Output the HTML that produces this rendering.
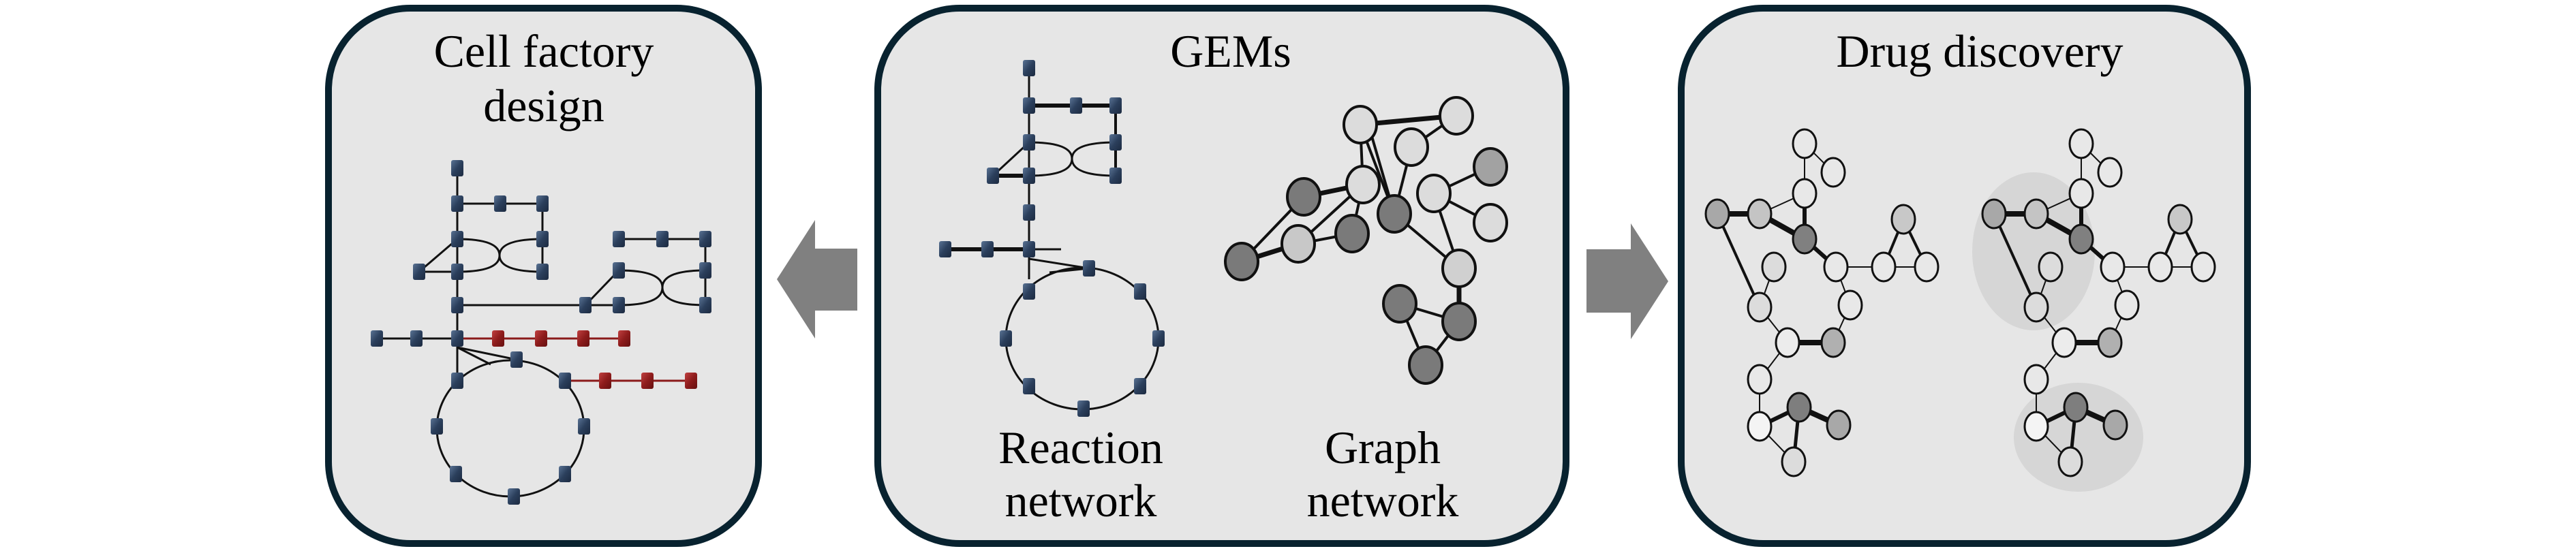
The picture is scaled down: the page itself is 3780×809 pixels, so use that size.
<!DOCTYPE html>
<html><head><meta charset="utf-8"><style>
html,body{margin:0;padding:0;background:#fff;}
svg{display:block;}
.t{font-family:"Liberation Serif","Times New Roman","DejaVu Serif",serif;font-size:68px;fill:#000;text-anchor:middle;}
</style></head><body>
<svg width="3780" height="809" viewBox="0 0 3780 809" xmlns="http://www.w3.org/2000/svg">
<defs>
<linearGradient id="bq" x1="0" y1="0" x2="1" y2="1"><stop offset="0" stop-color="#5a7394"/><stop offset="0.5" stop-color="#2b3f5c"/><stop offset="1" stop-color="#1c2a40"/></linearGradient>
<linearGradient id="rq" x1="0" y1="0" x2="1" y2="1"><stop offset="0" stop-color="#c04040"/><stop offset="0.5" stop-color="#8e1c1c"/><stop offset="1" stop-color="#661010"/></linearGradient>
<g id="b"><rect x="-9" y="-12" width="18" height="24" rx="3" fill="url(#bq)"/></g>
<g id="r"><rect x="-9" y="-12" width="18" height="24" rx="3" fill="url(#rq)"/></g>
</defs>
<g fill="#e6e6e6" stroke="#08222f" stroke-width="10">
<rect x="482" y="12" width="631" height="786" rx="120"/>
<rect x="1288" y="12" width="1010" height="786" rx="120"/>
<rect x="2467" y="12" width="831" height="786" rx="120"/>
</g>
<polygon points="1140,410 1196,323 1196,365 1258,365 1258,456 1196,456 1196,497" fill="#808080"/>
<polygon points="2448,413 2393,328 2393,366 2328,366 2328,459 2393,459 2393,498" fill="#808080"/>
<text class="t" x="798" y="98">Cell factory</text>
<text class="t" x="798" y="178">design</text>
<text class="t" x="1806" y="98">GEMs</text>
<text class="t" x="1586" y="680">Reaction</text>
<text class="t" x="1586" y="758">network</text>
<text class="t" x="2029" y="680">Graph</text>
<text class="t" x="2029" y="758">network</text>
<text class="t" x="2905" y="98">Drug discovery</text>

<g stroke="#111" fill="none" stroke-width="3">
<line x1="671" y1="247" x2="671" y2="559"/>
<line x1="671" y1="299" x2="796" y2="299"/>
<line x1="796" y1="299" x2="796" y2="399"/>
<path d="M671,351 Q733,351 733,375 Q733,399 671,399"/>
<path d="M796,351 Q733,351 733,375 Q733,399 796,399"/>
<line x1="615" y1="399" x2="671" y2="351"/>
<line x1="615" y1="399" x2="671" y2="399"/>
<line x1="671" y1="448" x2="859" y2="448"/>
<line x1="859" y1="448" x2="908" y2="397"/>
<line x1="859" y1="448" x2="908" y2="448"/>
<line x1="908" y1="351" x2="1035" y2="351"/>
<line x1="1035" y1="351" x2="1035" y2="448"/>
<path d="M908,397 Q972,397 972,422 Q972,448 908,448"/>
<path d="M1035,397 Q972,397 972,422 Q972,448 1035,448"/>
<line x1="553" y1="497" x2="671" y2="497"/>
<path d="M671,510 L758,528"/>
<path d="M671,510 L720,535"/>
<ellipse cx="749" cy="629" rx="108" ry="100"/>
</g>
<g stroke="#8b1a1a" stroke-width="3"><line x1="671" y1="497" x2="916" y2="497"/><line x1="829" y1="559" x2="1014" y2="559"/></g>
<g>
<use href="#b" x="671" y="247"/><use href="#b" x="671" y="299"/><use href="#b" x="734" y="299"/><use href="#b" x="796" y="299"/>
<use href="#b" x="671" y="351"/><use href="#b" x="796" y="351"/><use href="#b" x="615" y="399"/><use href="#b" x="671" y="399"/><use href="#b" x="796" y="399"/>
<use href="#b" x="671" y="448"/><use href="#b" x="859" y="448"/><use href="#b" x="908" y="448"/><use href="#b" x="1035" y="448"/>
<use href="#b" x="908" y="351"/><use href="#b" x="972" y="351"/><use href="#b" x="1035" y="351"/><use href="#b" x="908" y="397"/><use href="#b" x="1035" y="397"/>
<use href="#b" x="553" y="497"/><use href="#b" x="611" y="497"/><use href="#b" x="671" y="497"/>
<use href="#r" x="731" y="497"/><use href="#r" x="794" y="497"/><use href="#r" x="856" y="497"/><use href="#r" x="916" y="497"/>
<use href="#b" x="758" y="528"/><use href="#b" x="671" y="559"/><use href="#b" x="829" y="559"/>
<use href="#r" x="888" y="559"/><use href="#r" x="950" y="559"/><use href="#r" x="1014" y="559"/>
<use href="#b" x="641" y="626"/><use href="#b" x="857" y="626"/><use href="#b" x="669" y="696"/><use href="#b" x="829" y="696"/><use href="#b" x="754" y="729"/>
</g>

<g stroke="#111" fill="none" stroke-width="3">
<line x1="1510" y1="100" x2="1510" y2="410"/>
<line x1="1510" y1="155" x2="1637" y2="155" stroke-width="6"/>
<line x1="1637" y1="155" x2="1637" y2="258" stroke-width="4"/>
<path d="M1510,209 Q1573,209 1573,233 Q1573,258 1510,258"/>
<path d="M1637,209 Q1573,209 1573,233 Q1573,258 1637,258"/>
<line x1="1457" y1="258" x2="1510" y2="209"/>
<line x1="1457" y1="258" x2="1510" y2="258" stroke-width="6"/>
<line x1="1387" y1="366" x2="1510" y2="366" stroke-width="6"/>
<line x1="1510" y1="366" x2="1557" y2="366"/>
<path d="M1510,380 L1598,394 L1540,400"/>
<ellipse cx="1588" cy="497" rx="112" ry="104"/>
</g>
<g>
<use href="#b" x="1510" y="100"/><use href="#b" x="1510" y="155"/><use href="#b" x="1579" y="155"/><use href="#b" x="1637" y="155"/>
<use href="#b" x="1510" y="209"/><use href="#b" x="1637" y="209"/><use href="#b" x="1457" y="258"/><use href="#b" x="1510" y="258"/><use href="#b" x="1637" y="258"/>
<use href="#b" x="1510" y="312"/><use href="#b" x="1387" y="366"/><use href="#b" x="1449" y="366"/><use href="#b" x="1510" y="366"/>
<use href="#b" x="1598" y="394"/><use href="#b" x="1510" y="428"/><use href="#b" x="1673" y="428"/><use href="#b" x="1476" y="497"/><use href="#b" x="1700" y="497"/>
<use href="#b" x="1510" y="567"/><use href="#b" x="1673" y="567"/><use href="#b" x="1590" y="600"/>
</g>

<g stroke="#111" stroke-width="4" fill="none">
<line x1="1996" y1="183" x2="2137" y2="170" stroke-width="7"/>
<line x1="2071" y1="216" x2="2137" y2="170"/>
<line x1="1996" y1="183" x2="2000" y2="271"/>
<line x1="1996" y1="183" x2="2046" y2="314"/>
<line x1="2010" y1="190" x2="2046" y2="314"/>
<line x1="2071" y1="216" x2="2046" y2="314"/>
<line x1="2000" y1="271" x2="1913" y2="289" stroke-width="7"/>
<line x1="2000" y1="271" x2="1905" y2="358"/>
<line x1="2000" y1="271" x2="1984" y2="343"/>
<line x1="1913" y1="289" x2="1822" y2="384"/>
<line x1="1822" y1="384" x2="1905" y2="358" stroke-width="7"/>
<line x1="1905" y1="358" x2="1984" y2="343"/>
<line x1="2046" y1="314" x2="2141" y2="394"/>
<line x1="2104" y1="284" x2="2187" y2="245"/>
<line x1="2104" y1="284" x2="2187" y2="327"/>
<line x1="2104" y1="284" x2="2141" y2="394"/>
<line x1="2141" y1="394" x2="2141" y2="472" stroke-width="7"/>
<line x1="2054" y1="446" x2="2141" y2="472"/>
<line x1="2054" y1="446" x2="2092" y2="536"/>
<line x1="2141" y1="472" x2="2092" y2="536"/>
</g>
<g stroke="#111" stroke-width="4">
<ellipse cx="1996" cy="183" rx="24" ry="27" fill="#dcdcdc"/>
<ellipse cx="2137" cy="170" rx="24" ry="27" fill="#dcdcdc"/>
<ellipse cx="2071" cy="216" rx="24" ry="27" fill="#dcdcdc"/>
<ellipse cx="2000" cy="271" rx="24" ry="27" fill="#dcdcdc"/>
<ellipse cx="2187" cy="245" rx="24" ry="27" fill="#a2a2a2"/>
<ellipse cx="2104" cy="284" rx="24" ry="27" fill="#dcdcdc"/>
<ellipse cx="1913" cy="289" rx="24" ry="27" fill="#7a7a7a"/>
<ellipse cx="2046" cy="314" rx="24" ry="27" fill="#7a7a7a"/>
<ellipse cx="2187" cy="327" rx="24" ry="27" fill="#dcdcdc"/>
<ellipse cx="1984" cy="343" rx="24" ry="27" fill="#7a7a7a"/>
<ellipse cx="1905" cy="358" rx="24" ry="27" fill="#c8c8c8"/>
<ellipse cx="1822" cy="384" rx="24" ry="27" fill="#7a7a7a"/>
<ellipse cx="2141" cy="394" rx="24" ry="27" fill="#d0d0d0"/>
<ellipse cx="2054" cy="446" rx="24" ry="27" fill="#7a7a7a"/>
<ellipse cx="2141" cy="472" rx="24" ry="27" fill="#7a7a7a"/>
<ellipse cx="2092" cy="536" rx="24" ry="27" fill="#7a7a7a"/>
</g>

<ellipse cx="2984" cy="369" rx="90" ry="116" fill="#d6d6d6"/>
<ellipse cx="3050" cy="642" rx="95" ry="80" fill="#d6d6d6"/>
<g id="mol">
<g stroke="#111" fill="none">
<line x1="2648" y1="211" x2="2690" y2="253" stroke-width="2"/>
<line x1="2648" y1="211" x2="2648" y2="284" stroke-width="2"/>
<line x1="2648" y1="284" x2="2582" y2="314" stroke-width="2"/>
<line x1="2648" y1="284" x2="2648" y2="351" stroke-width="6"/>
<line x1="2520" y1="314" x2="2582" y2="314" stroke-width="8"/>
<line x1="2582" y1="314" x2="2648" y2="351" stroke-width="8"/>
<line x1="2520" y1="314" x2="2582" y2="451" stroke-width="4"/>
<line x1="2648" y1="351" x2="2694" y2="392" stroke-width="6"/>
<line x1="2603" y1="392" x2="2582" y2="451" stroke-width="2"/>
<line x1="2694" y1="392" x2="2715" y2="448" stroke-width="2"/>
<line x1="2694" y1="392" x2="2764" y2="392" stroke-width="2"/>
<line x1="2764" y1="392" x2="2793" y2="322" stroke-width="4"/>
<line x1="2793" y1="322" x2="2827" y2="392" stroke-width="4"/>
<line x1="2764" y1="392" x2="2827" y2="392" stroke-width="2"/>
<line x1="2715" y1="448" x2="2690" y2="503" stroke-width="2"/>
<line x1="2623" y1="503" x2="2690" y2="503" stroke-width="8"/>
<line x1="2582" y1="451" x2="2623" y2="503" stroke-width="2"/>
<line x1="2623" y1="503" x2="2582" y2="557" stroke-width="2"/>
<line x1="2582" y1="557" x2="2582" y2="626" stroke-width="2"/>
<line x1="2640" y1="598" x2="2582" y2="626" stroke-width="6"/>
<line x1="2640" y1="598" x2="2698" y2="624" stroke-width="8"/>
<line x1="2640" y1="598" x2="2632" y2="678" stroke-width="5"/>
<line x1="2582" y1="626" x2="2632" y2="678" stroke-width="2"/>
</g>
<g stroke="#111" stroke-width="3">
<ellipse cx="2648" cy="211" rx="17" ry="21" fill="#e8e8e8"/>
<ellipse cx="2690" cy="253" rx="17" ry="21" fill="#e8e8e8"/>
<ellipse cx="2648" cy="284" rx="17" ry="21" fill="#e8e8e8"/>
<ellipse cx="2520" cy="314" rx="17" ry="21" fill="#a8a8a8"/>
<ellipse cx="2582" cy="314" rx="17" ry="21" fill="#c4c4c4"/>
<ellipse cx="2648" cy="351" rx="17" ry="21" fill="#808080"/>
<ellipse cx="2603" cy="392" rx="17" ry="21" fill="#dcdcdc"/>
<ellipse cx="2694" cy="392" rx="17" ry="21" fill="#e8e8e8"/>
<ellipse cx="2793" cy="322" rx="17" ry="21" fill="#c8c8c8"/>
<ellipse cx="2764" cy="392" rx="17" ry="21" fill="#e8e8e8"/>
<ellipse cx="2827" cy="392" rx="17" ry="21" fill="#e8e8e8"/>
<ellipse cx="2582" cy="451" rx="17" ry="21" fill="#dcdcdc"/>
<ellipse cx="2715" cy="448" rx="17" ry="21" fill="#e8e8e8"/>
<ellipse cx="2623" cy="503" rx="17" ry="21" fill="#ececec"/>
<ellipse cx="2690" cy="503" rx="17" ry="21" fill="#b0b0b0"/>
<ellipse cx="2582" cy="557" rx="17" ry="21" fill="#e8e8e8"/>
<ellipse cx="2640" cy="598" rx="17" ry="21" fill="#7e7e7e"/>
<ellipse cx="2582" cy="626" rx="17" ry="21" fill="#f4f4f4"/>
<ellipse cx="2698" cy="624" rx="17" ry="21" fill="#a8a8a8"/>
<ellipse cx="2632" cy="678" rx="17" ry="21" fill="#dcdcdc"/>
</g>
</g>
<use href="#mol" x="406" y="0"/>
</svg>
</body></html>
